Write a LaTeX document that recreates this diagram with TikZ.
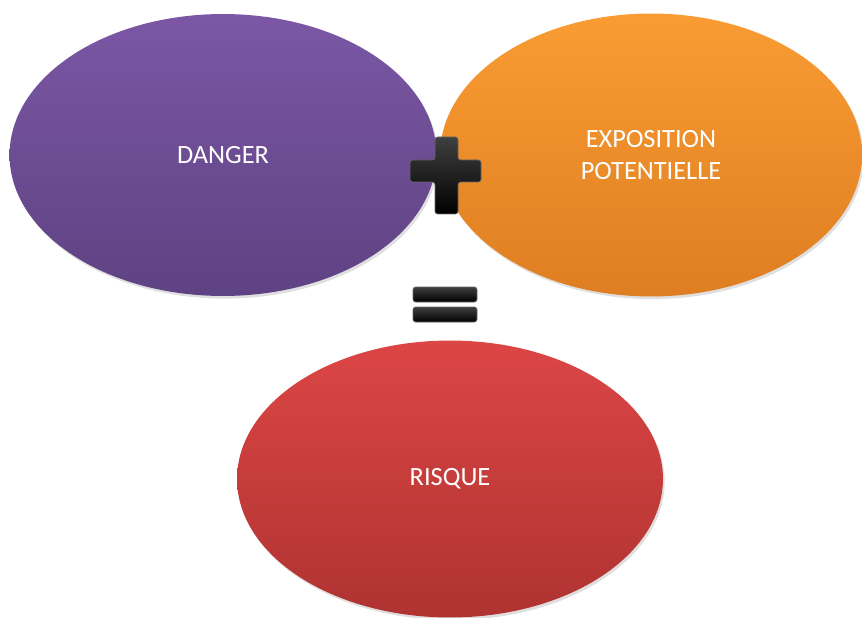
\documentclass[tikz,border=0pt]{standalone}
\usepackage{fontspec}
\setmainfont{Carlito}
\usetikzlibrary{shapes.geometric,shadows}
\definecolor{dangertop}{HTML}{7B57A5}
\definecolor{dangerbot}{HTML}{5E4282}
\definecolor{expotop}{HTML}{FA9C33}
\definecolor{expobot}{HTML}{DE7E22}
\definecolor{risktop}{HTML}{DC4645}
\definecolor{riskbot}{HTML}{AF3331}

\begin{document}
\begin{tikzpicture}[x=0.02cm,y=-0.02cm,
                    bubble/.style={ellipse,inner sep=0pt,text=white,align=center,
                      font=\fontsize{15}{18.5}\selectfont,
                      drop shadow={opacity=0.25,shadow xshift=1pt,shadow yshift=-1.5pt}},
                    bar/.style={rounded corners=1.5pt,top color=black!75,bottom color=black,
                      draw=black!60,line width=0.4pt}]
  \useasboundingbox (0,0) rectangle (862,618);
  \node[bubble,minimum width=8.54cm,minimum height=5.64cm,
        top color=dangertop,bottom color=dangerbot] (danger) at (223,155) {DANGER};
  \node[bubble,minimum width=8.44cm,minimum height=5.66cm,
        top color=expotop,bottom color=expobot] (expo) at (651,155)
        {EXPOSITION\\POTENTIELLE};
  \node[bubble,minimum width=8.52cm,minimum height=5.54cm,
        top color=risktop,bottom color=riskbot] (risque) at (450,479) {RISQUE};
  % plus
  \path[bar] (435,137) -- (458,137) -- (458,160) -- (481,160) -- (481,182)
    -- (458,182) -- (458,214) -- (435,214) -- (435,182) -- (410,182)
    -- (410,160) -- (435,160) -- cycle;
  % equals
  \path[bar] (413,287) rectangle (477,302);
  \path[bar] (413,307) rectangle (477,322);
\end{tikzpicture}
\end{document}
